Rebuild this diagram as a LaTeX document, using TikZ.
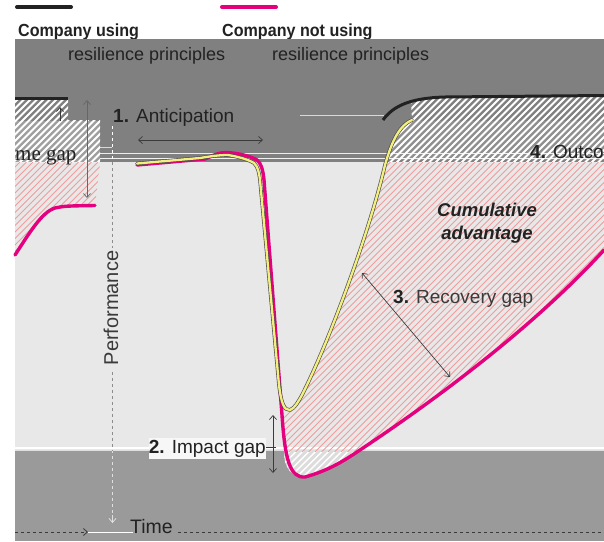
\documentclass[tikz,border=0pt]{standalone}
\usepackage{fontspec}
\setmainfont{Liberation Sans}
\newfontfamily\legendfont{Liberation Sans}[FakeStretch=0.92]
\newfontfamily\gapserif{Liberation Serif}
\usetikzlibrary{arrows.meta}

\definecolor{ink}{HTML}{222222}
\definecolor{softink}{HTML}{3A3A3A}
\definecolor{bandtop}{HTML}{808080}
\definecolor{bandlow}{HTML}{9A9A9A}
\definecolor{plotbg}{HTML}{E8E8E8}
\definecolor{ncupink}{HTML}{E5007D}
\definecolor{cuyellow}{HTML}{F3EF7E}
\definecolor{hatchpink}{HTML}{EE9C9C}
\definecolor{dipfill}{HTML}{DCDCDC}

% area between the two performance curves (cumulative advantage)
\newcommand\advregion{(290,410) .. controls (295,408) and (298,402) .. (302,395)
  .. controls (330,340) and (370,230) .. (385,165)
  .. controls (392,140) and (400,125) .. (412,120) -- (411,100.5)
  .. controls (425,97.5) .. (445,97) -- (604,95.5) -- (604,250)
  .. controls (540,320) and (450,390) .. (360,450)
  .. controls (345,460) and (330,470) .. (305,477)
  .. controls (290,478) and (285,460) .. (282,415) -- cycle}
% area of the time gap on the left
\newcommand\gapregion{(15,97) -- (68,97) -- (68,120) -- (100,120) -- (100,163) -- (95,205.5)
  .. controls (65,206) .. (55,208) .. controls (42,212) and (30,232) .. (15,255) -- cycle}
% diagonal stripes (rising to the right) over the whole frame; used inside clips
\newcommand\stripes[2]{%
  \foreach \c in {-560,-553.5,...,610} \draw[#1,line width=#2] (\c,560) -- ++(560,-560);}

\begin{document}
\begin{tikzpicture}[x=1pt,y=-1pt,line join=round,
  lbl/.style={inner sep=0pt,text=ink,font=\fontsize{19}{22}\selectfont},
  legendlbl/.style={inner sep=0pt,text=ink,font=\legendfont\bfseries\fontsize{17.5}{20}\selectfont},
  gaparrow/.style={draw=softink,line width=0.7pt,
    {Straight Barb[length=4pt,width=7pt]}-{Straight Barb[length=4pt,width=7pt]}},
  ncu/.style={draw=ncupink,line width=3.4pt,line cap=round},
  cuedge/.style={draw=black!70,line width=3.6pt,line cap=round},
  cuyel/.style={draw=cuyellow,line width=2.3pt,line cap=round},
  cublack/.style={draw=ink,line width=3pt},
  axisdash/.style={dash pattern=on 3pt off 3pt,line width=0.8pt}]
\useasboundingbox (0,0) rectangle (604,541);
\fill[white] (0,0) rectangle (604,541);

% legend
\coordinate (legA1) at (17,7);  \coordinate (legA2) at (71,7);
\coordinate (legB1) at (222,7); \coordinate (legB2) at (276,7);
\draw[ink,line width=4pt,line cap=round] (legA1) -- (legA2);
\draw[ncupink,line width=4pt,line cap=round] (legB1) -- (legB2);
\node[legendlbl,anchor=base west] (legAtxt) at (18,36) {Company using};
\node[legendlbl,anchor=base west] (legBtxt) at (222,36) {Company not using};

% background bands
\fill[bandtop] (15,39) rectangle (604,162);
\fill[plotbg] (15,162) rectangle (604,451);
\fill[bandlow] (15,451) rectangle (604,541);
\node[lbl,anchor=base west,font=\fontsize{18}{21}\selectfont] (legAsub) at (68,60) {resilience principles};
\node[lbl,anchor=base west,font=\fontsize{18}{21}\selectfont] (legBsub) at (272,60) {resilience principles};

% the dip below the lower seam, lighter than the band
\fill[dipfill] (284,451) -- (284.6,460) .. controls (287,470) and (293,477.5) .. (305,477)
  .. controls (318,474) and (332,466) .. (358,451) -- cycle;
\begin{scope}
  \clip (284,451) -- (284.6,460) .. controls (287,470) and (293,477.5) .. (305,477)
    .. controls (318,474) and (332,466) .. (358,451) -- cycle;
  \stripes{white}{1.4pt}
\end{scope}

% thin band seams
\draw[white!85!gray,line width=1.2pt] (100,153.5) -- (604,153.5);
\draw[white!90!gray,line width=1.2pt] (100,158.5) -- (604,158.5);
\draw[white!70!gray,line width=0.8pt] (300,115) -- (384,115);
\draw[white!70!gray,line width=0.8pt] (100,147) -- (112,147);
\draw[white,line width=1.6pt] (15,448) -- (604,448);
\draw[white!75!gray,line width=1.2pt] (15,450.8) -- (604,450.8);

% hatching, coloured per band
\begin{scope}
  \clip (15,39) rectangle (604,162);
  \clip \advregion;
  \fill[white,opacity=0.12] (385,121) rectangle (604,160);
  \stripes{white}{2pt}
\end{scope}
\begin{scope}
  \clip (15,39) rectangle (604,162);
  \clip \gapregion;
  \fill[white,opacity=0.25] (15,121) rectangle (100,163);
  \stripes{white}{2pt}
\end{scope}
\begin{scope}
  \clip (15,162) rectangle (604,451);
  \clip \advregion;
  \stripes{hatchpink}{0.8pt}
\end{scope}
\begin{scope}
  \clip (15,162) rectangle (604,451);
  \clip \gapregion;
  \stripes{hatchpink}{0.8pt}
\end{scope}

% performance axis
\coordinate (yTop) at (112.5,126); \coordinate (yA) at (112.5,248);
\coordinate (yB) at (112.5,372);   \coordinate (yPre) at (112.5,515);
\coordinate (yEnd) at (112.5,523);
\begin{scope}
  \clip (15,39) rectangle (604,162);
  \draw[axisdash,white] (yTop) -- (yA);
\end{scope}
\begin{scope}
  \clip (15,162) rectangle (604,451);
  \draw[axisdash,black!45] (yTop) -- (yA);
  \draw[axisdash,black!45] (yB) -- (yEnd);
\end{scope}
\begin{scope}
  \clip (15,451) rectangle (604,541);
  \draw[axisdash,black!12] (yB) -- (yEnd);
\end{scope}
\draw[black!12,line width=0.8pt,-{Straight Barb[length=4pt,width=7pt]}] (yPre) -- (yEnd);
\node[lbl,rotate=90,text=softink,font=\fontsize{20}{22}\selectfont] (perf) at (111,308) {Performance};

% time axis
\coordinate (xStart) at (15,532); \coordinate (xArr) at (88,532);
\coordinate (xWhite) at (133,532); \coordinate (xR1) at (178,532);
\coordinate (xR2) at (604,532);
\draw[axisdash,softink,-{Straight Barb[length=4pt,width=7pt]}] (xStart) -- (xArr);
\draw[white,line width=1pt] (xArr) -- (xWhite);
\draw[axisdash,softink] (xR1) -- (xR2);
\node[lbl,anchor=base west,font=\fontsize{19.5}{22}\selectfont] (timelbl) at (130,533) {Time};

% company not using resilience principles
\draw[ncu] (15,255) .. controls (30,232) and (42,212) .. (55,208) .. controls (65,206) .. (95,205.5);
\draw[ncu] (137,165) -- (205,159) .. controls (214,155) and (219,152.5) .. (226,152.5)
  .. controls (238,153) and (250,156) .. (257,160) .. controls (261,163) and (263,170) .. (264,180)
  -- (282,415) .. controls (285,460) and (290,478) .. (305,477)
  .. controls (330,470) and (345,460) .. (360,450)
  .. controls (450,390) and (540,320) .. (604,250);

% company using resilience principles
\newcommand\cupath{(137,163.5) -- (200,158) .. controls (212,156) and (220,155) .. (228,155)
  .. controls (240,157) and (249,160) .. (254,163) .. controls (258,167) and (259,172) .. (260,180)
  -- (279,385) .. controls (281,402) and (284,411) .. (290,410)
  .. controls (295,408) and (298,402) .. (302,395)
  .. controls (330,340) and (370,230) .. (385,165)
  .. controls (392,140) and (400,125) .. (412,120)}
\draw[cuedge] \cupath;
\draw[cuyel] \cupath;
\draw[cublack] (15,98) -- (68,98);
\draw[cublack] (383,120) .. controls (393,106) and (410,98) .. (445,97) -- (604,95.5);

% 1. anticipation
\node[lbl,anchor=base west] (antlbl) at (113,122) {\textbf{1.} Anticipation};
\coordinate (antL) at (138,140); \coordinate (antR) at (263,140);
\draw[gaparrow] (antL) -- (antR);

% time gap (left, cut by the frame)
\coordinate (tgTop) at (87,100); \coordinate (tgBot) at (87,198);
\draw[gaparrow,draw=black!60] (tgTop) -- (tgBot);
\coordinate (tgS1) at (60,121); \coordinate (tgS2) at (60,107);
\draw[softink,line width=0.7pt,-{Straight Barb[length=4pt,width=7pt]}] (tgS1) -- (tgS2);
\node[lbl,anchor=base west,font=\gapserif\fontsize{21}{24}\selectfont] (tglbl) at (15,160) {me gap};

% 2. impact gap
\node[lbl,anchor=base east,fill=white!94!gray,inner ysep=2pt] (implbl) at (266,453) {\textbf{2.} Impact gap};
\coordinate (impTop) at (273,415); \coordinate (impBot) at (273,473);
\coordinate (impT1) at (266,447);  \coordinate (impT2) at (276,447);
\draw[softink,line width=0.7pt] (impT1) -- (impT2);
\draw[gaparrow] (impTop) -- (impBot);

% 3. recovery gap
\coordinate (recA) at (362,273); \coordinate (recB) at (450,377);
\draw[gaparrow] (recA) -- (recB);
\node[lbl,anchor=base west,text=softink] (reclbl) at (393,303) {\textbf{\color{ink}3.} Recovery gap};

% 4. outcome gap (cut by the frame)
\node[lbl,anchor=base west,font=\fontsize{19}{22}\selectfont] (outlbl) at (530,158) {\textbf{4.} Outco};

% cumulative advantage
\node[lbl,align=center,font=\bfseries\itshape\fontsize{18.5}{23}\selectfont] (cumlbl) at (487,223) {Cumulative\\advantage};
\end{tikzpicture}
\end{document}
